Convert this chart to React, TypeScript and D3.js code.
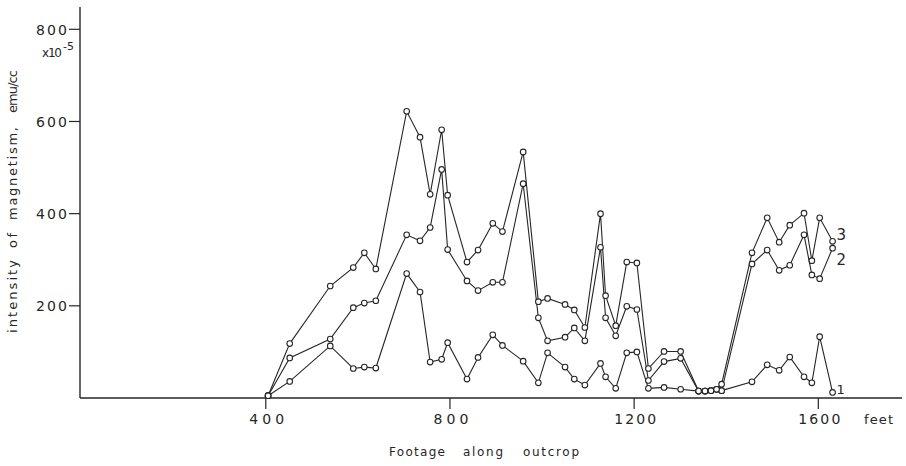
import React from 'react';
import * as d3 from 'd3';

const footage = [405, 452, 540, 590, 614, 639, 706, 735, 757, 782, 795, 837, 861, 893, 914, 959, 992, 1012, 1050, 1070, 1093, 1127, 1138, 1160, 1184, 1206, 1231, 1265, 1301, 1340, 1354, 1367, 1379, 1390, 1456, 1489, 1515, 1538, 1569, 1586, 1603, 1631];
const series1 = [5, 36, 113, 64, 67, 65, 270, 230, 78, 84, 120, 41, 88, 137, 114, 80, 33, 98, 67, 41, 28, 75, 46, 21, 98, 100, 21, 23, 19, 15, 15, 16, 19, 16, 35, 72, 60, 89, 46, 33, 133, 12];
const series2 = [5, 87, 128, 196, 206, 211, 354, 341, 370, 496, 322, 254, 233, 251, 251, 465, 174, 124, 132, 152, 124, 327, 174, 135, 199, 192, 38, 79, 86, 15, 15, 16, 19, 16, 291, 321, 277, 288, 354, 267, 259, 325];
const series3 = [5, 118, 243, 283, 315, 280, 622, 566, 442, 582, 440, 295, 321, 379, 361, 534, 209, 216, 203, 191, 153, 400, 222, 157, 295, 293, 64, 101, 101, 15, 15, 16, 19, 30, 315, 391, 338, 375, 401, 298, 391, 340];
const seriesNames = ['1', '2', '3'];
const xTicks = [400, 800, 1200, 1600];
const yTicks = [200, 400, 600, 800];
const xUnit = 'feet';
const xTitleWords = ['Footage', 'along', 'outcrop'];
const yTitleWords = ['intensity', 'of', 'magnetism,', 'emu/cc'];

const INK = '#262626';
// layout: start offset and length of each title word along its axis
const yWordSpans = [[0, 73], [85, 15], [113, 93], [220, 43]];
const xWordSpans = [[0, 56], [74, 40], [134, 56]];

export default function App() {
  const W = 906, H = 466;
  const x = d3.scaleLinear().domain([0, 1600]).range([81.6, 818.3]);
  const y = d3.scaleLinear().domain([0, 800]).range([398, 29.3]);
  const all = [series1, series2, series3];
  const labelDy = [1.5, 17, -1.5];
  const line = d3.line<number>().x((_, i) => x(footage[i])).y(d => y(d));
  const font = '"DejaVu Sans", "Liberation Sans", Arial, sans-serif';
  const last = footage.length - 1;

  return (
    <svg width={W} height={H} style={{ position: 'absolute', left: 0, top: 0, background: '#fff' }} fontFamily={font}>
      {/* axes */}
      <line x1={80} y1={7} x2={80} y2={y(0)} stroke={INK} strokeWidth={1.4} />
      <line x1={80} y1={y(0)} x2={902} y2={y(0)} stroke={INK} strokeWidth={1.4} />
      {yTicks.map(t => (
        <g key={t}>
          <line x1={69} x2={80} y1={y(t)} y2={y(t)} stroke={INK} strokeWidth={1.2} />
          <text x={67} y={y(t) + 5.5} textAnchor="end" fontSize={14} fill={INK} textLength={31} lengthAdjust="spacing">{t}</text>
        </g>
      ))}
      <text x={42} y={57} fontSize={12} fill={INK} textLength={20} lengthAdjust="spacing">x10</text>
      <text x={63} y={50} fontSize={11} fill={INK}>-5</text>
      {xTicks.map(t => (
        <g key={t}>
          <line x1={x(t)} x2={x(t)} y1={y(0)} y2={409} stroke={INK} strokeWidth={1.2} />
          <text x={x(t) + 1} y={423.5} textAnchor="middle" fontSize={14} fill={INK} textLength={t >= 1000 ? 42 : 35} lengthAdjust="spacing">{t}</text>
        </g>
      ))}
      <text x={864} y={423.5} fontSize={13} fill={INK} textLength={29} lengthAdjust="spacing">{xUnit}</text>
      {xTitleWords.map((w, i) => (
        <text key={w} x={389 + xWordSpans[i][0]} y={456} fontSize={12} fill={INK} textLength={xWordSpans[i][1]} lengthAdjust="spacing">{w}</text>
      ))}
      <g transform="translate(17,333) rotate(-90)">
        {yTitleWords.map((w, i) => (
          <text key={w} x={yWordSpans[i][0]} y={0} fontSize={13} fill={INK} textLength={yWordSpans[i][1]} lengthAdjust="spacing">{w}</text>
        ))}
      </g>

      {/* series lines */}
      {all.map((s, k) => (
        <path key={'l' + k} d={line(s) || ''} fill="none" stroke={INK} strokeWidth={1.1} />
      ))}
      {all.map((s, k) => (
        <g key={'p' + k}>
          {s.map((v, i) => (
            <circle key={i} cx={x(footage[i])} cy={y(v)} r={2.8} fill="#fff" stroke={INK} strokeWidth={1.1} />
          ))}
        </g>
      ))}
      {all.map((s, k) => (
        <text key={'n' + k} x={x(footage[last]) + 4} y={y(s[last]) + labelDy[k]} fontSize={k === 0 ? 13 : 15} fill={INK}>{seriesNames[k]}</text>
      ))}
    </svg>
  );
}
